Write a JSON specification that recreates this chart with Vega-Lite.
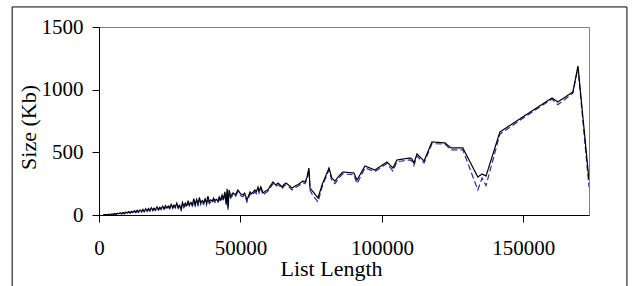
{
  "$schema": "https://vega.github.io/schema/vega-lite/v6.json",
  "width": 490,
  "height": 188,
  "autosize": "none",
  "padding": {"left": 99, "top": 27, "right": 45, "bottom": 71},
  "background": "white",
  "config": {
    "view": {"stroke": "#808080", "strokeWidth": 1},
    "font": "Liberation Serif",
    "axis": {
      "labelFont": "Liberation Serif", "labelFontSize": 21, "labelColor": "black",
      "titleFont": "Liberation Serif", "titleFontSize": 22, "titleFontWeight": "normal", "titleColor": "black",
      "domainColor": "black", "tickColor": "black", "tickSize": 7,
      "grid": false, "labelFlush": false, "labelOverlap": false
    }
  },
  "datasets": {
    "frame": [{"x0": -30700, "x1": 186600, "y0": 1660, "y1": -640}],
    "sizes": [
      {"n":1500,"s":"B","kb":0},{"n":2500,"s":"B","kb":2},{"n":3000,"s":"B","kb":0},{"n":3500,"s":"B","kb":3},{"n":4000,"s":"B","kb":1},{"n":4500,"s":"B","kb":5},{"n":5000,"s":"B","kb":3},{"n":5500,"s":"B","kb":8},{"n":6000,"s":"B","kb":4},{"n":6500,"s":"B","kb":10},{"n":7000,"s":"B","kb":7},{"n":7500,"s":"B","kb":13},{"n":8000,"s":"B","kb":8},{"n":8500,"s":"B","kb":15},{"n":9000,"s":"B","kb":10},{"n":9500,"s":"B","kb":18},{"n":10000,"s":"B","kb":12},{"n":10500,"s":"B","kb":22},{"n":11000,"s":"B","kb":14},{"n":11500,"s":"B","kb":24},{"n":12000,"s":"B","kb":16},{"n":12500,"s":"B","kb":28},{"n":13000,"s":"B","kb":18},{"n":13500,"s":"B","kb":30},{"n":14000,"s":"B","kb":21},{"n":14500,"s":"B","kb":33},{"n":15000,"s":"B","kb":22},{"n":15500,"s":"B","kb":37},{"n":16000,"s":"B","kb":25},{"n":16500,"s":"B","kb":42},{"n":17000,"s":"B","kb":28},{"n":17500,"s":"B","kb":44},{"n":18000,"s":"B","kb":30},{"n":18500,"s":"B","kb":48},{"n":19000,"s":"B","kb":33},{"n":19500,"s":"B","kb":46},{"n":20000,"s":"B","kb":35},{"n":20500,"s":"B","kb":55},{"n":21000,"s":"B","kb":38},{"n":21500,"s":"B","kb":52},{"n":22000,"s":"B","kb":42},{"n":22500,"s":"B","kb":60},{"n":23000,"s":"B","kb":44},{"n":23500,"s":"B","kb":63},{"n":24000,"s":"B","kb":46},{"n":24500,"s":"B","kb":62},{"n":25000,"s":"B","kb":48},{"n":25500,"s":"B","kb":72},{"n":26000,"s":"B","kb":50},{"n":26500,"s":"B","kb":68},{"n":27000,"s":"B","kb":55},{"n":27500,"s":"B","kb":80},{"n":28000,"s":"B","kb":52},{"n":28500,"s":"B","kb":66},{"n":29000,"s":"B","kb":38},{"n":29500,"s":"B","kb":85},{"n":30000,"s":"B","kb":58},{"n":30500,"s":"B","kb":80},{"n":31000,"s":"B","kb":62},{"n":31500,"s":"B","kb":95},{"n":32000,"s":"B","kb":66},{"n":32500,"s":"B","kb":86},{"n":33000,"s":"B","kb":70},{"n":33500,"s":"B","kb":112},{"n":34000,"s":"B","kb":72},{"n":34500,"s":"B","kb":108},{"n":35000,"s":"B","kb":76},{"n":35500,"s":"B","kb":120},{"n":36000,"s":"B","kb":80},{"n":36500,"s":"B","kb":100},{"n":37000,"s":"B","kb":85},{"n":37500,"s":"B","kb":112},{"n":38000,"s":"B","kb":80},{"n":38500,"s":"B","kb":130},{"n":39000,"s":"B","kb":90},{"n":39500,"s":"B","kb":105},{"n":40000,"s":"B","kb":95},{"n":40500,"s":"B","kb":118},{"n":41000,"s":"B","kb":100},{"n":41500,"s":"B","kb":108},{"n":42000,"s":"B","kb":95},{"n":42500,"s":"B","kb":128},{"n":43000,"s":"B","kb":105},{"n":43500,"s":"B","kb":140},{"n":44000,"s":"B","kb":112},{"n":44500,"s":"B","kb":165},{"n":45000,"s":"B","kb":70},{"n":45300,"s":"B","kb":190},{"n":45600,"s":"B","kb":40},{"n":46000,"s":"B","kb":180},{"n":46500,"s":"B","kb":135},{"n":47400,"s":"B","kb":160},{"n":48200,"s":"B","kb":145},{"n":49100,"s":"B","kb":185},{"n":50000,"s":"B","kb":155},{"n":50900,"s":"B","kb":145},{"n":51500,"s":"B","kb":160},{"n":52300,"s":"B","kb":105},{"n":53400,"s":"B","kb":170},{"n":54000,"s":"B","kb":155},{"n":55100,"s":"B","kb":185},{"n":55600,"s":"B","kb":170},{"n":56200,"s":"B","kb":208},{"n":56600,"s":"B","kb":175},{"n":57200,"s":"B","kb":210},{"n":58000,"s":"B","kb":160},{"n":58800,"s":"B","kb":175},{"n":59700,"s":"B","kb":188},{"n":60500,"s":"B","kb":215},{"n":61500,"s":"B","kb":250},{"n":62400,"s":"B","kb":228},{"n":63300,"s":"B","kb":242},{"n":64000,"s":"B","kb":228},{"n":64700,"s":"B","kb":208},{"n":65400,"s":"B","kb":232},{"n":66100,"s":"B","kb":242},{"n":67000,"s":"B","kb":228},{"n":68200,"s":"B","kb":200},{"n":69300,"s":"B","kb":218},{"n":70500,"s":"B","kb":232},{"n":72100,"s":"B","kb":258},{"n":72800,"s":"B","kb":250},{"n":73500,"s":"B","kb":285},{"n":74200,"s":"B","kb":360},{"n":74600,"s":"B","kb":195},{"n":75500,"s":"B","kb":160},{"n":77400,"s":"B","kb":104},{"n":79000,"s":"B","kb":235},{"n":81300,"s":"B","kb":360},{"n":82300,"s":"B","kb":275},{"n":83400,"s":"B","kb":250},{"n":84800,"s":"B","kb":295},{"n":86200,"s":"B","kb":328},{"n":90100,"s":"B","kb":320},{"n":91200,"s":"B","kb":250},{"n":94000,"s":"B","kb":375},{"n":97500,"s":"B","kb":345},{"n":101800,"s":"B","kb":410},{"n":103900,"s":"B","kb":350},{"n":105300,"s":"B","kb":425},{"n":109900,"s":"B","kb":440},{"n":110600,"s":"B","kb":432},{"n":111300,"s":"B","kb":395},{"n":112400,"s":"B","kb":470},{"n":114900,"s":"B","kb":415},{"n":117700,"s":"B","kb":570},{"n":122300,"s":"B","kb":565},{"n":124400,"s":"B","kb":520},{"n":128600,"s":"B","kb":520},{"n":133900,"s":"B","kb":200},{"n":135400,"s":"B","kb":295},{"n":136800,"s":"B","kb":235},{"n":141700,"s":"B","kb":645},{"n":151000,"s":"B","kb":790},{"n":160100,"s":"B","kb":925},{"n":162200,"s":"B","kb":880},{"n":167500,"s":"B","kb":972},{"n":169300,"s":"B","kb":1175},{"n":173200,"s":"B","kb":223},
      {"n":1500,"s":"A","kb":2},{"n":2500,"s":"A","kb":4},{"n":3000,"s":"A","kb":1},{"n":3500,"s":"A","kb":6},{"n":4000,"s":"A","kb":3},{"n":4500,"s":"A","kb":8},{"n":5000,"s":"A","kb":5},{"n":5500,"s":"A","kb":12},{"n":6000,"s":"A","kb":6},{"n":6500,"s":"A","kb":14},{"n":7000,"s":"A","kb":10},{"n":7500,"s":"A","kb":18},{"n":8000,"s":"A","kb":11},{"n":8500,"s":"A","kb":20},{"n":9000,"s":"A","kb":13},{"n":9500,"s":"A","kb":24},{"n":10000,"s":"A","kb":15},{"n":10500,"s":"A","kb":28},{"n":11000,"s":"A","kb":18},{"n":11500,"s":"A","kb":30},{"n":12000,"s":"A","kb":20},{"n":12500,"s":"A","kb":35},{"n":13000,"s":"A","kb":22},{"n":13500,"s":"A","kb":38},{"n":14000,"s":"A","kb":26},{"n":14500,"s":"A","kb":40},{"n":15000,"s":"A","kb":27},{"n":15500,"s":"A","kb":45},{"n":16000,"s":"A","kb":30},{"n":16500,"s":"A","kb":50},{"n":17000,"s":"A","kb":33},{"n":17500,"s":"A","kb":52},{"n":18000,"s":"A","kb":36},{"n":18500,"s":"A","kb":58},{"n":19000,"s":"A","kb":40},{"n":19500,"s":"A","kb":55},{"n":20000,"s":"A","kb":42},{"n":20500,"s":"A","kb":65},{"n":21000,"s":"A","kb":45},{"n":21500,"s":"A","kb":62},{"n":22000,"s":"A","kb":50},{"n":22500,"s":"A","kb":70},{"n":23000,"s":"A","kb":52},{"n":23500,"s":"A","kb":75},{"n":24000,"s":"A","kb":55},{"n":24500,"s":"A","kb":72},{"n":25000,"s":"A","kb":58},{"n":25500,"s":"A","kb":85},{"n":26000,"s":"A","kb":60},{"n":26500,"s":"A","kb":80},{"n":27000,"s":"A","kb":65},{"n":27500,"s":"A","kb":95},{"n":28000,"s":"A","kb":62},{"n":28500,"s":"A","kb":78},{"n":29000,"s":"A","kb":45},{"n":29500,"s":"A","kb":100},{"n":30000,"s":"A","kb":70},{"n":30500,"s":"A","kb":95},{"n":31000,"s":"A","kb":75},{"n":31500,"s":"A","kb":110},{"n":32000,"s":"A","kb":80},{"n":32500,"s":"A","kb":100},{"n":33000,"s":"A","kb":82},{"n":33500,"s":"A","kb":130},{"n":34000,"s":"A","kb":85},{"n":34500,"s":"A","kb":125},{"n":35000,"s":"A","kb":90},{"n":35500,"s":"A","kb":140},{"n":36000,"s":"A","kb":95},{"n":36500,"s":"A","kb":115},{"n":37000,"s":"A","kb":100},{"n":37500,"s":"A","kb":130},{"n":38000,"s":"A","kb":95},{"n":38500,"s":"A","kb":150},{"n":39000,"s":"A","kb":105},{"n":39500,"s":"A","kb":120},{"n":40000,"s":"A","kb":110},{"n":40500,"s":"A","kb":135},{"n":41000,"s":"A","kb":115},{"n":41500,"s":"A","kb":125},{"n":42000,"s":"A","kb":110},{"n":42500,"s":"A","kb":145},{"n":43000,"s":"A","kb":120},{"n":43500,"s":"A","kb":160},{"n":44000,"s":"A","kb":130},{"n":44500,"s":"A","kb":185},{"n":45000,"s":"A","kb":90},{"n":45300,"s":"A","kb":210},{"n":45600,"s":"A","kb":60},{"n":46000,"s":"A","kb":200},{"n":46500,"s":"A","kb":150},{"n":47400,"s":"A","kb":176},{"n":48200,"s":"A","kb":160},{"n":49100,"s":"A","kb":200},{"n":50000,"s":"A","kb":170},{"n":50900,"s":"A","kb":160},{"n":51500,"s":"A","kb":175},{"n":52300,"s":"A","kb":120},{"n":53400,"s":"A","kb":184},{"n":54000,"s":"A","kb":170},{"n":55100,"s":"A","kb":200},{"n":55600,"s":"A","kb":185},{"n":56200,"s":"A","kb":223},{"n":56600,"s":"A","kb":190},{"n":57200,"s":"A","kb":225},{"n":58000,"s":"A","kb":176},{"n":58800,"s":"A","kb":190},{"n":59700,"s":"A","kb":200},{"n":60500,"s":"A","kb":230},{"n":61500,"s":"A","kb":263},{"n":62400,"s":"A","kb":240},{"n":63300,"s":"A","kb":255},{"n":64000,"s":"A","kb":240},{"n":64700,"s":"A","kb":223},{"n":65400,"s":"A","kb":245},{"n":66100,"s":"A","kb":255},{"n":67000,"s":"A","kb":240},{"n":68200,"s":"A","kb":215},{"n":69300,"s":"A","kb":231},{"n":70500,"s":"A","kb":245},{"n":72100,"s":"A","kb":271},{"n":72800,"s":"A","kb":263},{"n":73500,"s":"A","kb":300},{"n":74200,"s":"A","kb":375},{"n":74600,"s":"A","kb":215},{"n":75500,"s":"A","kb":190},{"n":77400,"s":"A","kb":136},{"n":79000,"s":"A","kb":250},{"n":81300,"s":"A","kb":375},{"n":82300,"s":"A","kb":295},{"n":83400,"s":"A","kb":271},{"n":84800,"s":"A","kb":310},{"n":86200,"s":"A","kb":343},{"n":90100,"s":"A","kb":335},{"n":91200,"s":"A","kb":279},{"n":94000,"s":"A","kb":391},{"n":97500,"s":"A","kb":359},{"n":101800,"s":"A","kb":423},{"n":103900,"s":"A","kb":375},{"n":105300,"s":"A","kb":439},{"n":109900,"s":"A","kb":455},{"n":110600,"s":"A","kb":447},{"n":111300,"s":"A","kb":415},{"n":112400,"s":"A","kb":487},{"n":114900,"s":"A","kb":431},{"n":117700,"s":"A","kb":583},{"n":122300,"s":"A","kb":575},{"n":124400,"s":"A","kb":535},{"n":128600,"s":"A","kb":535},{"n":133900,"s":"A","kb":303},{"n":135400,"s":"A","kb":327},{"n":136800,"s":"A","kb":311},{"n":141700,"s":"A","kb":662},{"n":151000,"s":"A","kb":800},{"n":160100,"s":"A","kb":934},{"n":162200,"s":"A","kb":902},{"n":167500,"s":"A","kb":982},{"n":169300,"s":"A","kb":1189},{"n":173200,"s":"A","kb":279}
    ]
  },
  "layer": [
    {
      "data": {"name": "sizes"},
      "mark": {"type": "line", "strokeWidth": 1.2, "clip": true},
      "encoding": {
        "x": {
          "field": "n", "type": "quantitative", "title": "List Length",
          "scale": {"domain": [0, 173200], "nice": false, "zero": false},
          "axis": {"values": [0, 50000, 100000, 150000], "format": "d", "labelPadding": 15, "titleX": 232, "titleY": 60, "titleAlign": "center", "titleBaseline": "alphabetic"}
        },
        "y": {
          "field": "kb", "type": "quantitative", "title": "Size (Kb)",
          "scale": {"domain": [0, 1500], "nice": false},
          "axis": {"values": [0, 500, 1000, 1500], "format": "d", "labelPadding": 9, "titleX": -64, "titleY": 100, "titleAlign": "center", "titleBaseline": "alphabetic"}
        },
        "color": {"field": "s", "type": "nominal", "scale": {"domain": ["B", "A"], "range": ["#2a2ab0", "#000000"]}, "legend": null},
        "strokeDash": {"field": "s", "type": "nominal", "scale": {"domain": ["B", "A"], "range": [[6, 3], [1, 0]]}, "legend": null}
      }
    },
    {
      "data": {"name": "frame"},
      "mark": {"type": "rect", "fillOpacity": 0, "stroke": "black", "strokeWidth": 1, "clip": false},
      "encoding": {
        "x": {"field": "x0", "type": "quantitative", "title": "List Length", "axis": {"values": [0, 50000, 100000, 150000], "format": "d", "labelPadding": 15, "titleX": 232, "titleY": 60, "titleAlign": "center", "titleBaseline": "alphabetic"}},
        "x2": {"field": "x1"},
        "y": {"field": "y0", "type": "quantitative", "title": "Size (Kb)", "axis": {"values": [0, 500, 1000, 1500], "format": "d", "labelPadding": 9, "titleX": -64, "titleY": 100, "titleAlign": "center", "titleBaseline": "alphabetic"}},
        "y2": {"field": "y1"}
      }
    }
  ]
}
